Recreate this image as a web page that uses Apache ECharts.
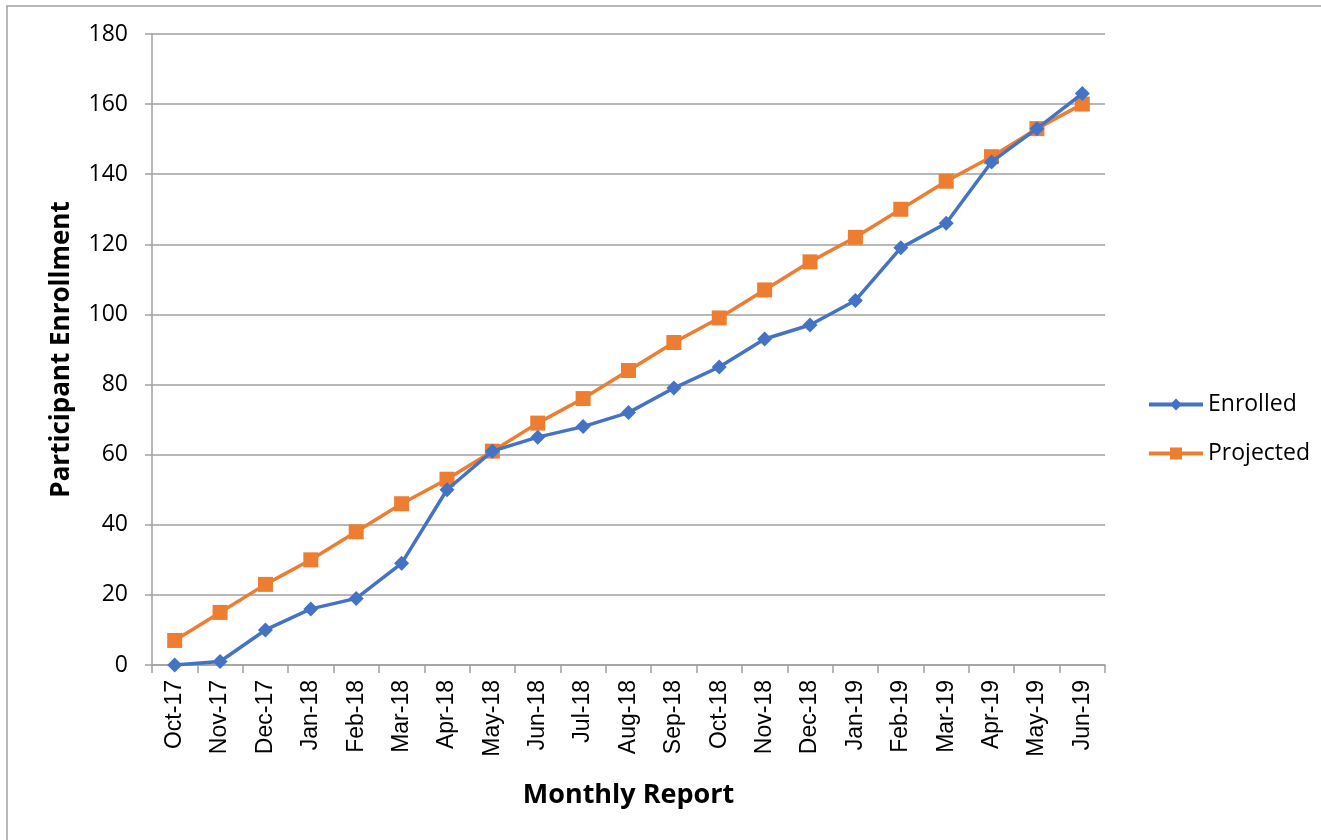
<!DOCTYPE html>
<html>
<head>
<meta charset="utf-8">
<script src="https://cdn.jsdelivr.net/npm/echarts@6/dist/echarts.min.js"></script>
<style>
  html, body { margin: 0; padding: 0; background: #fff; }
  #chart { width: 1321px; height: 840px; }
</style>
</head>
<body>
<div id="chart"></div>
<script>
var months = ['Oct-17', 'Nov-17', 'Dec-17', 'Jan-18', 'Feb-18', 'Mar-18', 'Apr-18',
    'May-18', 'Jun-18', 'Jul-18', 'Aug-18', 'Sep-18', 'Oct-18', 'Nov-18', 'Dec-18',
    'Jan-19', 'Feb-19', 'Mar-19', 'Apr-19', 'May-19', 'Jun-19'];
var enrolled = [0, 1, 10, 16, 19, 29, 50, 61, 65, 68, 72, 79, 85, 93, 97, 104, 119, 126, 143.5, 153, 163];
var projected = [7, 15, 23, 30, 38, 46, 53, 61, 69, 76, 84, 92, 99, 107, 115, 122, 130, 138, 145, 153, 160];

var font = '"Open Sans", Lato, sans-serif';
var armFont = '"Liberation Sans", Arial, sans-serif';
var chart = echarts.init(document.getElementById('chart'));
var option = {
    animation: false,
    color: ['#4472c4', '#ed7d31'],
    graphic: [{
        type: 'rect',
        shape: { x: 7, y: 6, width: 1330, height: 850 },
        style: { fill: 'none', stroke: '#a0a0a0', lineWidth: 1.5 }
    }],
    grid: { left: 152, right: 216, top: 34, bottom: 175 },
    legend: {
        orient: 'vertical',
        left: 1147,
        top: 393,
        padding: 0,
        itemGap: 26,
        itemWidth: 54,
        itemHeight: 15,
        lineStyle: { width: 4 },
        textStyle: { fontFamily: font, fontSize: 23, color: '#000' },
        data: ['Enrolled', 'Projected']
    },
    xAxis: {
        type: 'category',
        data: months,
        boundaryGap: true,
        name: 'Monthly Report',
        nameLocation: 'middle',
        nameGap: 117,
        nameTextStyle: { fontFamily: font, fontSize: 27, fontWeight: 'bold', color: '#000' },
        axisLine: { lineStyle: { color: '#a0a0a0', width: 1.5 } },
        axisTick: { show: true, alignWithLabel: false, length: 8, lineStyle: { color: '#a0a0a0', width: 1.5 } },
        axisLabel: { rotate: 90, fontFamily: armFont, fontSize: 23, color: '#000', margin: 15, interval: 0 }
    },
    yAxis: {
        type: 'value',
        min: 0,
        max: 180,
        interval: 20,
        name: 'Participant Enrollment',
        nameLocation: 'middle',
        nameGap: 77,
        nameTextStyle: { fontFamily: font, fontSize: 26, fontWeight: 'bold', color: '#000' },
        axisLine: { show: true, lineStyle: { color: '#a0a0a0', width: 1.5 } },
        axisTick: { show: true, length: 7, lineStyle: { color: '#a0a0a0', width: 1.5 } },
        axisLabel: { fontFamily: font, fontSize: 23, color: '#000', margin: 24 },
        splitLine: { lineStyle: { color: '#a0a0a0', width: 1.5 } }
    },
    series: [
        {
            name: 'Enrolled',
            type: 'line',
            data: enrolled,
            symbol: 'diamond',
            symbolSize: 15,
            lineStyle: { width: 3.5 },
            z: 3
        },
        {
            name: 'Projected',
            type: 'line',
            data: projected,
            symbol: 'rect',
            symbolSize: 15,
            lineStyle: { width: 3.5 },
            z: 2
        }
    ]
};
chart.setOption(option);
</script>
</body>
</html>
